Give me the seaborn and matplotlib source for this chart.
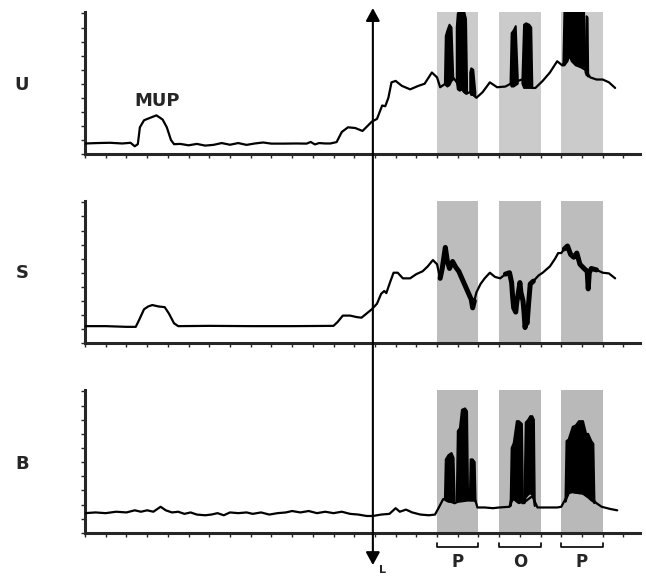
import numpy as np
import matplotlib
matplotlib.use('Agg')
import matplotlib.pyplot as plt
from matplotlib.patches import FancyArrowPatch
from matplotlib.transforms import blended_transform_factory
import seaborn as sns

#%% trace data (time in tick units, amplitude in tick units)
u_x = [0.0, 0.6, 1.2, 1.8, 2.2, 2.4, 2.55, 2.65, 2.85, 3.1, 3.45, 3.75, 3.95, 4.15, 4.3,
       4.6, 5.0, 5.4, 5.8, 6.2, 6.6, 7.0, 7.4, 7.8, 8.2, 8.6, 9.0, 9.6, 10.2, 10.7, 10.9,
       11.1, 11.3, 11.6, 11.85, 12.15, 12.4, 12.7, 13.05, 13.4, 13.85, 14.1, 14.35, 14.5,
       14.65, 14.8, 15.0, 15.3, 15.7, 16.1, 16.4, 16.75, 17.0, 17.15, 17.4, 17.8, 18.0,
       18.4, 18.6, 18.9, 19.2, 19.55, 19.9, 20.3, 20.55, 20.9, 21.1, 21.6, 21.75, 22.1,
       22.45, 22.8, 23.05, 23.4, 23.8, 24.15, 24.4, 24.7, 25.0, 25.3, 25.6]
u_y = [0.75, 0.78, 0.8, 0.75, 0.8, 0.55, 0.7, 1.9, 2.4, 2.55, 2.75, 2.45, 1.9, 1.0, 0.7,
       0.72, 0.62, 0.72, 0.6, 0.65, 0.78, 0.66, 0.78, 0.65, 0.75, 0.82, 0.74, 0.74, 0.75, 0.74, 0.86,
       0.68, 0.78, 0.75, 0.75, 0.85, 1.57, 1.9, 1.85, 1.64, 2.3, 2.5, 3.45, 3.4,
       4.0, 5.1, 5.2, 4.85, 4.6, 4.85, 5.0, 5.8, 5.45, 4.75, 5.0, 5.4, 5.0,
       4.3, 4.4, 4.0, 4.4, 5.1, 4.75, 4.8, 5.0, 5.2, 5.3, 4.7, 4.7, 5.2,
       5.8, 6.6, 6.3, 7.0, 6.3, 6.0, 5.45, 5.3, 5.3, 5.1, 4.7]

# EMG bursts in U: lower / upper envelope, nan splits clusters
u_burst_x = [17.38, 17.42, 17.5, 17.6, 17.7, 17.78, np.nan, 17.95, 18.0, 18.1, 18.2, 18.3, 18.4, 18.45,
             np.nan, 18.6, 18.65, 18.75, 18.85, np.nan, 20.55, 20.6, 20.7, 20.8, 20.9, np.nan,
             21.12, 21.2, 21.3, 21.45, 21.55, 21.6, np.nan, 23.1, 23.15, 23.3, 23.4, 23.5, 23.7,
             23.9, 24.1, 24.15, np.nan, 24.17, 24.22, 24.27, 24.3]
u_burst_hi = [5.2, 8.4, 8.8, 9.2, 9.0, 5.6, np.nan, 9.0, 10.0, 10.2, 10.2, 10.2, 9.6, 5.0,
              np.nan, 5.8, 6.1, 6.0, 4.4, np.nan, 5.3, 8.6, 8.8, 9.1, 5.4, np.nan,
              5.3, 9.2, 9.3, 9.2, 9.0, 5.0, np.nan, 6.5, 10.2, 10.2, 10.2, 10.2, 10.2,
              10.2, 10.2, 6.6, np.nan, 6.0, 9.8, 9.7, 5.6]
u_burst_lo = [5.0, 4.9, 4.8, 4.9, 5.2, 5.3, np.nan, 5.2, 4.6, 4.5, 4.6, 4.4, 4.3, 4.3,
              np.nan, 4.4, 4.2, 4.2, 4.1, np.nan, 5.0, 4.8, 4.8, 4.9, 5.0, np.nan,
              5.0, 4.7, 4.7, 4.7, 4.7, 4.7, np.nan, 6.3, 6.3, 6.6, 7.0, 6.6, 6.3,
              6.2, 6.2, 6.2, np.nan, 5.8, 5.6, 5.6, 5.5]

s_x = [0.0, 1.0, 2.0, 2.45, 2.6, 2.85, 3.05, 3.25, 3.55, 3.85, 4.05, 4.3, 4.5, 6.0, 8.0, 10.0,
       12.0, 12.2, 12.45, 12.8, 13.1, 13.35, 13.6, 13.85, 14.1, 14.3, 14.45, 14.55, 14.75, 14.9,
       15.1, 15.35, 15.7, 16.0, 16.3, 16.55, 16.8, 17.0, 17.15, 17.25, 17.4, 17.5, 17.6, 17.75,
       17.9, 18.05, 18.2, 18.35, 18.5, 18.65, 18.72, 18.8, 18.9, 19.1, 19.3, 19.55, 19.8, 20.05,
       20.3, 20.5, 20.6, 20.65, 20.7, 20.8, 20.85, 20.95, 21.0, 21.05, 21.15, 21.2, 21.25, 21.3,
       21.35, 21.42, 21.5, 21.65, 21.9, 22.1, 22.45, 22.7, 22.85, 23.0, 23.15, 23.3, 23.45, 23.6,
       23.75, 23.9, 24.1, 24.25, 24.3, 24.35, 24.45, 24.7, 25.0, 25.3, 25.6]
s_y = [1.2, 1.2, 1.15, 1.15, 1.6, 2.4, 2.6, 2.7, 2.6, 2.55, 2.1, 1.4, 1.2, 1.22, 1.2, 1.2,
       1.22, 1.5, 1.95, 1.95, 1.85, 1.8, 2.1, 2.4, 2.8, 3.5, 3.7, 3.55, 4.4, 5.0,
       5.0, 4.6, 4.6, 4.9, 5.1, 5.45, 5.9, 5.6, 4.6, 5.3, 6.8, 5.8, 5.3, 5.8,
       5.4, 5.1, 4.6, 4.1, 3.6, 3.1, 2.5, 3.0, 3.6, 4.2, 4.6, 5.0, 4.7, 4.6,
       4.9, 5.0, 4.3, 3.3, 2.5, 2.2, 2.9, 3.8, 4.3, 3.6, 3.0, 2.2, 1.1, 1.6,
       1.4, 2.8, 4.2, 4.4, 4.8, 5.0, 5.45, 6.0, 6.4, 6.4, 6.7, 6.9, 6.3, 6.1,
       6.4, 5.6, 5.3, 5.1, 3.85, 5.0, 5.3, 5.2, 5.0, 4.95, 4.6]

b_x = [0.0, 0.5, 1.0, 1.5, 2.0, 2.4, 2.7, 3.0, 3.3, 3.65, 3.9, 4.2, 4.5, 4.8, 5.1, 5.4, 5.8,
       6.1, 6.4, 6.7, 7.0, 7.4, 7.8, 8.1, 8.5, 8.9, 9.3, 9.7, 10.0, 10.4, 10.8, 11.2, 11.6,
       12.0, 12.4, 12.8, 13.2, 13.6, 13.9, 14.3, 14.7, 15.0, 15.2, 15.5, 15.8, 16.2, 16.6,
       16.9, 17.05, 17.3, 17.85, 18.0, 18.5, 18.85, 18.95, 19.3, 19.7, 20.0, 20.5, 20.6,
       21.15, 21.6, 21.85, 22.3, 22.8, 23.0, 23.2, 23.4, 24.0, 24.5, 24.7, 24.95, 25.35, 25.7]
b_y = [1.4, 1.45, 1.4, 1.5, 1.45, 1.6, 1.5, 1.6, 1.5, 1.85, 1.6, 1.45, 1.5, 1.35, 1.45, 1.3, 1.25,
       1.3, 1.4, 1.25, 1.45, 1.4, 1.45, 1.35, 1.45, 1.3, 1.4, 1.45, 1.55, 1.45, 1.55, 1.4, 1.5,
       1.4, 1.5, 1.35, 1.3, 1.2, 1.2, 1.3, 1.35, 1.75, 1.5, 1.65, 1.45, 1.3, 1.25,
       1.3, 1.7, 2.4, 2.1, 2.2, 2.3, 2.3, 1.8, 1.8, 1.75, 1.8, 1.85, 2.5,
       2.1, 2.6, 1.8, 1.8, 1.8, 1.85, 2.4, 2.9, 2.8, 2.4, 2.1, 1.85, 1.7, 1.6]

b_burst_x = [17.38, 17.42, 17.55, 17.7, 17.8, 17.85, np.nan, 17.95, 18.0, 18.1, 18.2, 18.35, 18.45, 18.5,
             np.nan, 18.58, 18.62, 18.72, 18.82, 18.86, np.nan, 20.55, 20.6, 20.7, 20.85, 20.95, 21.1, 21.15,
             np.nan, 21.22, 21.28, 21.4, 21.5, 21.6, 21.68, 21.72, np.nan,
             23.2, 23.25, 23.35, 23.55, 23.7, 23.85, 24.05, 24.2, 24.3, 24.45, 24.55, 24.6]
b_burst_hi = [2.6, 5.2, 5.5, 5.65, 5.3, 2.4, np.nan, 2.3, 7.2, 7.4, 8.7, 8.8, 8.6, 2.5,
              np.nan, 2.4, 5.2, 5.2, 5.0, 2.3, np.nan, 2.0, 6.0, 6.35, 7.9, 7.9, 7.7, 2.3,
              np.nan, 2.2, 7.8, 8.0, 8.25, 8.25, 8.0, 2.0, np.nan,
              2.3, 6.5, 6.6, 7.5, 7.6, 7.9, 7.9, 7.0, 7.0, 6.5, 6.3, 2.4]
b_burst_lo = [2.4, 2.3, 2.2, 2.2, 2.2, 2.2, np.nan, 2.2, 2.2, 2.3, 2.4, 2.4, 2.4, 2.3,
              np.nan, 2.3, 2.3, 2.3, 2.3, 2.2, np.nan, 1.9, 2.2, 2.4, 2.2, 2.1, 2.2, 2.1,
              np.nan, 2.1, 2.5, 2.7, 2.8, 2.7, 2.4, 1.9, np.nan,
              2.2, 2.4, 2.8, 2.9, 2.85, 2.8, 2.8, 2.6, 2.5, 2.3, 2.2, 2.1]

bands = [(17, 19), (20, 22), (23, 25)]
band_labels = ['P', 'O', 'P']
L_time = 13.9
panel_names = ['U', 'S', 'B']

#%%
sns.set_style('ticks')
plt.rcParams['font.family'] = ['DejaVu Sans']

fig = plt.figure(figsize=(6.46, 5.76), dpi=100)
rects = [[0.1316, 0.7326, 0.8591, 0.2465],
         [0.1316, 0.4045, 0.8591, 0.2465],
         [0.1316, 0.0747, 0.8591, 0.2483]]
band_grey = ['#cbcbcb', '#bdbdbd', '#b9b9b9']
label_y = [1 - 85 / 576, 1 - 273 / 576, 1 - 464 / 576]

traces = [(u_x, u_y), (s_x, s_y), (b_x, b_y)]
axes = []
for i, rect in enumerate(rects):
    ax = fig.add_axes(rect)
    axes.append(ax)
    for a, b in bands:
        ax.axvspan(a, b, color=band_grey[i], lw=0, zorder=0)
    x, y = traces[i]
    sns.lineplot(x=x, y=y, sort=False, estimator=None, color='k', lw=1.6, ax=ax, zorder=3)
    ax.set_xlim(0, 26.8)
    ax.set_ylim(0, 10.1)
    ax.set_xticks(np.arange(0, 27))
    ax.set_yticks(np.arange(0, 11))
    ax.tick_params(direction='out', length=3, width=1.0, labelbottom=False, labelleft=False)
    for sp in ['top', 'right']:
        ax.spines[sp].set_visible(False)
    for sp in ['left', 'bottom']:
        ax.spines[sp].set_linewidth(2.2)
    ax.set_xlabel('')
    ax.set_ylabel('')
    fig.text(0.034, label_y[i], panel_names[i], fontsize=13, fontweight='bold',
             ha='center', va='center')

axU, axS, axB = axes
axU.fill_between(u_burst_x, u_burst_lo, u_burst_hi, color='k', lw=1.4, zorder=4)
axB.fill_between(b_burst_x, b_burst_lo, b_burst_hi, color='k', lw=1.4, zorder=4)

# the S trace looks blotchy inside the stimulation bands
s_x_arr, s_y_arr = np.array(s_x), np.array(s_y)
for a, b in bands:
    m = (s_x_arr >= a + 0.1) & (s_x_arr <= b - 0.2)
    axS.plot(s_x_arr[m], s_y_arr[m], color='k', lw=3.6, solid_capstyle='round', zorder=4)

axU.text(3.5, 3.75, 'MUP', fontsize=13, fontweight='bold', ha='center', va='center')

for (a, b), lab in zip(bands, band_labels):
    axB.plot([a, a, b, b], [-0.72, -0.98, -0.98, -0.72], color='k', lw=1.2, clip_on=False)
    axB.text((a + b) / 2, -2.05, lab, fontsize=12, fontweight='bold', ha='center', va='center')

# lesion / event marker crossing all three panels
trans = blended_transform_factory(axB.transData, fig.transFigure)
arrow = FancyArrowPatch((L_time, 0.019), (L_time, 0.986), transform=trans,
                        arrowstyle='<|-|>,head_length=0.55,head_width=0.3',
                        mutation_scale=14, lw=1.5, color='k', shrinkA=0, shrinkB=0)
fig.add_artist(arrow)
fig.text(383 / 646, 1 - 570 / 576, 'L', fontsize=8, fontweight='bold', ha='center', va='center')

plt.savefig('out.png', dpi=100)
